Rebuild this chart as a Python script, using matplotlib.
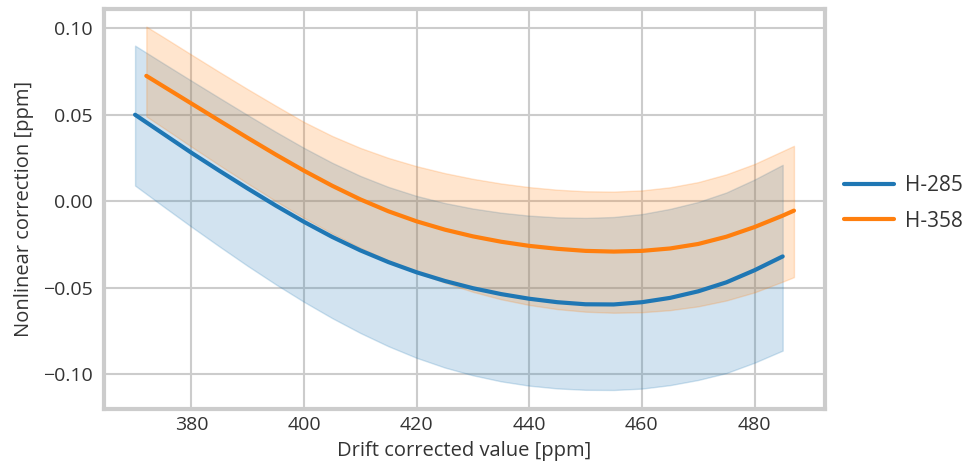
import matplotlib
matplotlib.use('Agg')
import matplotlib.pyplot as plt
from matplotlib.ticker import FuncFormatter

# drift corrected value [ppm]
x_285 = [370, 375, 380, 385, 390, 395, 400, 405, 410, 415, 420, 425,
         430, 435, 440, 445, 450, 455, 460, 465, 470, 475, 480, 485]
# H-285 fit and band
h285 = [0.0500, 0.0390, 0.0280, 0.0175, 0.0073, -0.0026, -0.0120, -0.0207,
        -0.0285, -0.0353, -0.0412, -0.0462, -0.0504, -0.0538, -0.0565, -0.0585,
        -0.0597, -0.0598, -0.0585, -0.0560, -0.0522, -0.0470, -0.0400, -0.0320]
h285_hi = [0.0900, 0.0798, 0.0697, 0.0597, 0.0498, 0.0401, 0.0308, 0.0222,
           0.0146, 0.0082, 0.0030, -0.0011, -0.0043, -0.0067, -0.0084, -0.0094,
           -0.0097, -0.0092, -0.0075, -0.0045, -0.0005, 0.0050, 0.0125, 0.0210]
h285_lo = [0.0090, -0.0030, -0.0148, -0.0263, -0.0375, -0.0482, -0.0583, -0.0677,
           -0.0763, -0.0840, -0.0907, -0.0963, -0.1008, -0.1043, -0.1068, -0.1084,
           -0.1092, -0.1093, -0.1085, -0.1065, -0.1035, -0.0995, -0.0935, -0.0865]

x_358 = [372, 375, 380, 385, 390, 395, 400, 405, 410, 415, 420, 425, 430,
         435, 440, 445, 450, 455, 460, 465, 470, 475, 480, 485, 487]
# H-358 fit and band
h358 = [0.0725, 0.0665, 0.0565, 0.0465, 0.0366, 0.0269, 0.0176, 0.0089,
        0.0010, -0.0059, -0.0117, -0.0165, -0.0204, -0.0235, -0.0259, -0.0276,
        -0.0288, -0.0292, -0.0288, -0.0274, -0.0248, -0.0206, -0.0150, -0.0084,
        -0.0055]
h358_hi = [0.1010, 0.0950, 0.0848, 0.0747, 0.0648, 0.0552, 0.0458, 0.0377,
           0.0308, 0.0250, 0.0202, 0.0162, 0.0129, 0.0102, 0.0081, 0.0066,
           0.0057, 0.0055, 0.0062, 0.0080, 0.0110, 0.0155, 0.0215, 0.0290,
           0.0320]
h358_lo = [0.0490, 0.0425, 0.0315, 0.0207, 0.0102, 0.0000, -0.0097, -0.0187,
           -0.0270, -0.0345, -0.0412, -0.0472, -0.0525, -0.0568, -0.0601, -0.0625,
           -0.0640, -0.0646, -0.0643, -0.0631, -0.0609, -0.0575, -0.0528, -0.0466,
           -0.0440]

plt.rcParams['font.family'] = ['Open Sans', 'DejaVu Sans']

fig = plt.figure(figsize=(9.73, 4.70), dpi=100)
ax = fig.add_axes([0.1064, 0.1298, 0.8484 - 0.1064, 0.9798 - 0.1298])

blue = '#1f77b4'
orange = '#ff7f0e'
text_c = '#333333'

ax.fill_between(x_285, h285_lo, h285_hi, color=blue, alpha=0.2, lw=1)
ax.fill_between(x_358, h358_lo, h358_hi, color=orange, alpha=0.2, lw=1)
ax.plot(x_285, h285, color=blue, lw=3, solid_capstyle='round', label='H-285')
ax.plot(x_358, h358, color=orange, lw=3, solid_capstyle='round', label='H-358')

ax.set_xlim(364.4, 492.6)
ax.set_ylim(-0.1203, 0.1109)
ax.set_xticks([380, 400, 420, 440, 460, 480])
ax.set_yticks([-0.10, -0.05, 0.00, 0.05, 0.10])
ax.yaxis.set_major_formatter(FuncFormatter(lambda v, p: f'{v:.2f}'.replace('-', '\u2212')))

ax.grid(True, color='#cccccc', lw=1.5)
ax.set_axisbelow(True)
for s in ax.spines.values():
    s.set_color('#cccccc')
    s.set_linewidth(3)
ax.tick_params(length=0, labelsize=14, colors=text_c)
ax.tick_params(axis='y', pad=8)
ax.tick_params(axis='x', pad=5)

ax.set_xlabel('Drift corrected value [ppm]', fontsize=14.5, color=text_c, labelpad=5)
ax.set_ylabel('Nonlinear correction [ppm]', fontsize=14.5, color=text_c, labelpad=6)

ax.legend(loc='center left', bbox_to_anchor=(1.0, 0.515), frameon=False,
          fontsize=15, handlelength=2.4, handletextpad=0.5, labelspacing=0.7,
          labelcolor=text_c)

fig.savefig('out.png', dpi=100, facecolor='white')
